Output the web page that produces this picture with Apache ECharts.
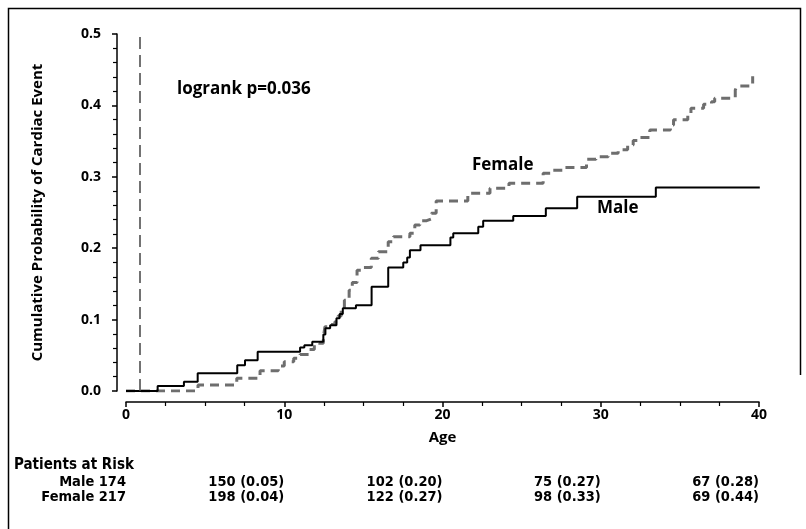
<!DOCTYPE html>
<html>
<head>
<meta charset="utf-8">
<script src="https://cdn.jsdelivr.net/npm/echarts@6/dist/echarts.min.js"></script>
<style>
  html, body { margin: 0; padding: 0; background: #fff; }
  #chart { width: 806px; height: 529px; }
</style>
</head>
<body>
<div id="chart"></div>
<script>
// Kaplan-Meier style cumulative event curves: [age, cumulative probability]
const maleSteps = [
  [0, 0], [2.0, 0.007], [3.66, 0.013], [4.53, 0.025], [7.03, 0.036], [7.52, 0.043],
  [8.32, 0.055], [11.0, 0.061], [11.27, 0.064], [11.77, 0.069], [12.47, 0.079],
  [12.6, 0.088], [12.9, 0.092], [13.3, 0.102], [13.5, 0.108], [13.7, 0.116],
  [14.53, 0.120], [15.52, 0.146], [16.57, 0.173], [17.52, 0.180], [17.77, 0.187],
  [17.94, 0.197], [18.61, 0.204], [20.5, 0.215], [20.68, 0.221], [22.26, 0.230],
  [22.57, 0.2385], [24.47, 0.245], [26.53, 0.256], [28.51, 0.272], [33.48, 0.285],
  [40.05, 0.285]
];
const femaleSteps = [
  [0, 0], [4.55, 0.0084], [7.0, 0.0177], [8.47, 0.0285], [9.62, 0.035], [10.0, 0.041],
  [10.6, 0.046], [11.0, 0.051], [11.6, 0.058], [11.9, 0.064], [12.25, 0.067],
  [12.47, 0.075], [12.57, 0.090], [12.9, 0.093], [13.2, 0.097], [13.4, 0.105],
  [13.6, 0.116], [13.8, 0.127], [14.1, 0.141], [14.3, 0.152], [14.6, 0.169],
  [14.9, 0.173], [15.5, 0.186], [15.95, 0.195], [16.57, 0.209], [16.9, 0.216],
  [17.94, 0.221], [18.25, 0.2325], [18.57, 0.2385], [19.0, 0.241], [19.3, 0.249],
  [19.6, 0.266], [21.6, 0.277], [23.0, 0.284], [24.2, 0.291], [26.36, 0.305],
  [27.0, 0.309], [27.6, 0.313], [29.1, 0.3245], [29.7, 0.328], [30.47, 0.333],
  [31.1, 0.338], [31.7, 0.3445], [32.05, 0.351], [32.5, 0.355], [33.1, 0.3655],
  [34.4, 0.3725], [34.6, 0.380], [35.5, 0.389], [35.7, 0.396], [36.5, 0.4015],
  [37.0, 0.405], [37.2, 0.41], [38.5, 0.4215], [38.6, 0.427], [39.6, 0.441]
];
const refLineAge = 0.9;

// patients at risk table
const riskAges = [0, 10, 20, 30, 40];
const maleRisk = ['Male 174', '150 (0.05)', '102 (0.20)', '75 (0.27)', '67 (0.28)'];
const femaleRisk = ['Female 217', '198 (0.04)', '122 (0.27)', '98 (0.33)', '69 (0.44)'];

const FONT = 'Open Sans, DejaVu Sans, sans-serif';
const TABLE_FONT = 'DejaVu Sans Condensed, DejaVu Sans, sans-serif';

const myChart = echarts.init(document.getElementById('chart'));

const tickStyle = { color: '#000', width: 1.5 };

const option = {
  animation: false,
  backgroundColor: '#fff',
  grid: { left: 126, right: 47, top: 34, bottom: 138 },
  xAxis: {
    type: 'value',
    min: 0,
    max: 40,
    interval: 10,
    offset: 11,
    name: 'Age',
    nameLocation: 'middle',
    nameGap: 28,
    nameTextStyle: { color: '#000', fontSize: 15, fontWeight: 'bold', fontFamily: FONT },
    axisLine: { show: true, onZero: false, lineStyle: { color: '#000', width: 1.5 } },
    axisTick: { show: true, inside: false, length: 5, lineStyle: tickStyle },
    minorTick: { show: true, splitNumber: 4, length: 4, lineStyle: { color: '#000', width: 1.2 } },
    axisLabel: { color: '#000', fontSize: 14, fontWeight: 'bold', fontFamily: FONT, margin: 6 },
    splitLine: { show: false },
    minorSplitLine: { show: false }
  },
  yAxis: {
    type: 'value',
    min: 0,
    max: 0.5,
    interval: 0.1,
    offset: 9,
    name: 'Cumulative Probability of Cardiac Event',
    nameLocation: 'middle',
    nameGap: 72,
    nameTextStyle: { color: '#000', fontSize: 15, fontWeight: 'bold', fontFamily: FONT },
    axisLine: { show: true, onZero: false, lineStyle: { color: '#000', width: 1.5 } },
    axisTick: { show: true, inside: false, length: 5, lineStyle: tickStyle },
    minorTick: { show: true, splitNumber: 5, length: 4, lineStyle: { color: '#000', width: 1.2 } },
    axisLabel: {
      color: '#000', fontSize: 14, fontWeight: 'bold', fontFamily: FONT, margin: 16,
      formatter: v => v.toFixed(1)
    },
    splitLine: { show: false },
    minorSplitLine: { show: false }
  },
  series: [
    {
      name: 'Male',
      type: 'line',
      step: 'end',
      data: maleSteps,
      showSymbol: false,
      lineStyle: { color: '#000', width: 2 },
      z: 3,
      markLine: {
        silent: true,
        symbol: 'none',
        label: { show: false },
        lineStyle: { color: '#444', width: 1.5, type: [12, 6] },
        data: [{ xAxis: refLineAge }]
      }
    },
    {
      name: 'Female',
      type: 'line',
      step: 'end',
      data: femaleSteps,
      showSymbol: false,
      lineStyle: { color: '#6e6e6e', width: 3, type: [9, 6] },
      z: 2
    }
  ]
};

myChart.setOption(option);

// annotations and at-risk table, placed from the axis scale
const px = age => myChart.convertToPixel({ xAxisIndex: 0 }, age);
const graphics = [
  {
    type: 'polyline',
    shape: { points: [[8.5, 529], [8.5, 8.5], [800.5, 8.5], [800.5, 375]] },
    style: { stroke: '#000', lineWidth: 1.5, fill: null }
  },
  {
    type: 'text', left: 177, top: 81,
    style: { text: 'logrank p=0.036', fontSize: 17, fontWeight: 'bold', fontFamily: FONT, fill: '#000' }
  },
  {
    type: 'text', left: 472, top: 157,
    style: { text: 'Female', fontSize: 17, fontWeight: 'bold', fontFamily: FONT, fill: '#000' }
  },
  {
    type: 'text', left: 597, top: 200,
    style: { text: 'Male', fontSize: 17, fontWeight: 'bold', fontFamily: FONT, fill: '#000' }
  },
  {
    type: 'text', left: 14, top: 458,
    style: { text: 'Patients at Risk', fontSize: 15, fontWeight: 'bold', fontFamily: TABLE_FONT, fill: '#000' }
  }
];
riskAges.forEach((age, i) => {
  const x = px(age);
  graphics.push({
    type: 'text', x: x, y: 482,
    style: { text: maleRisk[i], fontSize: 14.5, fontWeight: 'bold', fontFamily: TABLE_FONT, fill: '#000', align: 'right', verticalAlign: 'middle' }
  });
  graphics.push({
    type: 'text', x: x, y: 497,
    style: { text: femaleRisk[i], fontSize: 14.5, fontWeight: 'bold', fontFamily: TABLE_FONT, fill: '#000', align: 'right', verticalAlign: 'middle' }
  });
});
myChart.setOption({ graphic: graphics });
</script>
</body>
</html>
